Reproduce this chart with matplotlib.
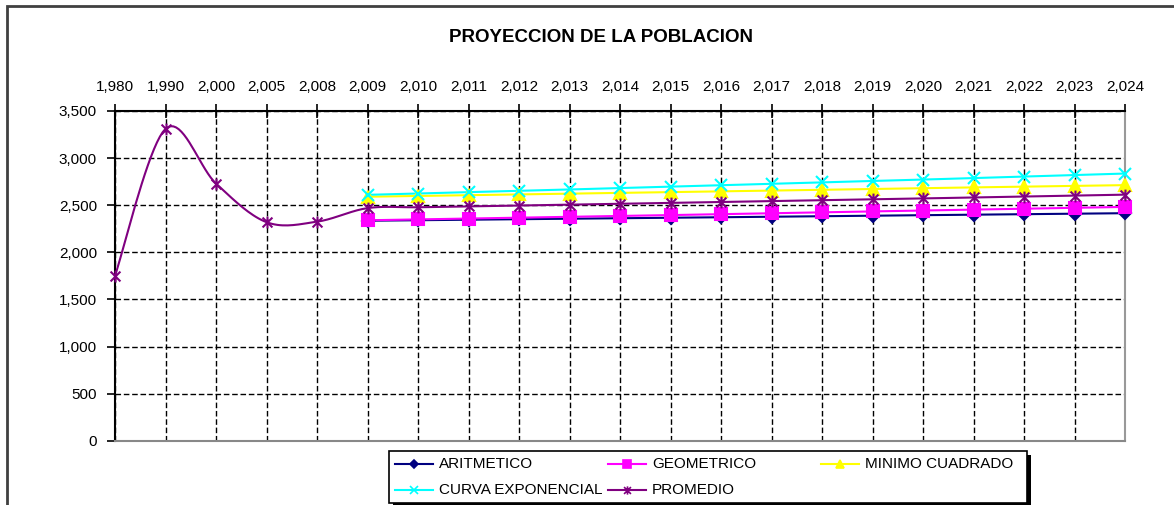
import numpy as np
import matplotlib
matplotlib.use("Agg")
import matplotlib.pyplot as plt
from matplotlib.path import Path
from matplotlib.patches import Rectangle
from matplotlib.lines import Line2D
from matplotlib.ticker import FuncFormatter, MultipleLocator

plt.rcParams.update({
    "font.family": ["Liberation Sans", "DejaVu Sans"],
    "font.size": 11,
})

YEARS = [1980, 1990, 2000, 2005, 2008, 2009, 2010, 2011, 2012, 2013, 2014,
         2015, 2016, 2017, 2018, 2019, 2020, 2021, 2022, 2023, 2024]

N = np.nan
ARITMETICO = [N, N, N, N, N, 2335, 2340, 2346, 2351, 2356, 2362, 2367, 2372,
              2378, 2383, 2388, 2394, 2399, 2404, 2410, 2415]
GEOMETRICO = [N, N, N, N, N, 2340, 2349, 2358, 2367, 2376, 2386, 2395, 2405,
              2414, 2424, 2434, 2443, 2453, 2463, 2472, 2482]
MINIMO_CUADRADO = [N, N, N, N, N, 2590, 2598, 2606, 2614, 2622, 2631, 2639,
                   2647, 2655, 2664, 2672, 2680, 2689, 2697, 2705, 2713]
CURVA_EXPONENCIAL = [N, N, N, N, N, 2610, 2624, 2638, 2653, 2667, 2682, 2697,
                     2712, 2727, 2742, 2757, 2772, 2788, 2804, 2820, 2836]
PROMEDIO = [1750, 3310, 2730, 2320, 2325, 2469, 2478, 2487, 2496, 2505, 2515,
            2525, 2534, 2544, 2553, 2563, 2572, 2582, 2592, 2602, 2612]

W, H = 1174, 505


def fx(xp):
    return xp / W


def fy(yp):
    return 1 - yp / H


def suavizar(x, y, pasos=20):
    # curva suavizada tipo Excel (Catmull-Rom) solo para dibujar la linea
    x = np.asarray(x, float)
    y = np.asarray(y, float)
    ok = ~np.isnan(y)
    x, y = x[ok], y[ok]
    px = np.concatenate([[x[0]], x, [x[-1]]])
    py = np.concatenate([[y[0]], y, [y[-1]]])
    xs, ys = [], []
    t = np.linspace(0, 1, pasos)
    for i in range(1, len(px) - 2):
        for p, out in ((px, xs), (py, ys)):
            p0, p1, p2, p3 = p[i - 1], p[i], p[i + 1], p[i + 2]
            out.extend(0.5 * (2 * p1 + (-p0 + p2) * t
                              + (2 * p0 - 5 * p1 + 4 * p2 - p3) * t ** 2
                              + (-p0 + 3 * p1 - 3 * p2 + p3) * t ** 3))
    return np.array(xs), np.array(ys)


# marcador asterisco de Excel (x con linea vertical)
ASTERISCO = Path(
    [(-1, -1), (1, 1), (-1, 1), (1, -1), (0, -1.2), (0, 1.2)],
    [Path.MOVETO, Path.LINETO, Path.MOVETO, Path.LINETO, Path.MOVETO, Path.LINETO],
)

series = [
    ("ARITMETICO", ARITMETICO, "#000080", "D", 6.5),
    ("GEOMETRICO", GEOMETRICO, "#FF00FF", "s", 8),
    ("MINIMO CUADRADO", MINIMO_CUADRADO, "#FFFF00", "^", 8),
    ("CURVA EXPONENCIAL", CURVA_EXPONENCIAL, "#00FFFF", "x", 8),
    ("PROMEDIO", PROMEDIO, "#800080", ASTERISCO, 8.5),
]

fig = plt.figure(figsize=(W / 100, H / 100), dpi=100)
fig.patch.set_facecolor("white")

# marco del grafico (se corta por abajo y la derecha como en la imagen)
fig.patches.append(Rectangle((fx(7), -0.2), 1.2, fy(6) + 0.2,
                             transform=fig.transFigure, fill=False,
                             edgecolor="#404040", linewidth=2, zorder=0))

ax = fig.add_axes([fx(115), fy(440.7), 1010 / W, 329.7 / H])
x = np.arange(len(YEARS))

for nombre, vals, color, marker, ms in series:
    sx, sy = suavizar(x, vals)
    ax.plot(sx, sy, color=color, linewidth=1.5, zorder=3, solid_capstyle="butt")
    ax.plot(x, vals, linestyle="none", marker=marker, markersize=ms,
            color=color, markeredgewidth=1.5, zorder=4, clip_on=False)

ax.set_xlim(0, len(YEARS) - 1)
ax.set_ylim(0, 3500)
ax.yaxis.set_major_locator(MultipleLocator(500))
ax.yaxis.set_major_formatter(FuncFormatter(lambda v, p: f"{int(v):,}"))
ax.set_xticks(x)
ax.set_xticklabels([f"{a:,}" for a in YEARS])
ax.xaxis.tick_top()
ax.tick_params(axis="x", direction="inout", length=10, width=1.2, pad=7,
               labelsize=11, colors="black")
ax.tick_params(axis="y", direction="out", length=6, width=1.2, pad=7,
               labelsize=11)

ax.grid(True, color="black", linestyle=(0, (4, 2)), linewidth=1, zorder=1)
ax.set_axisbelow(True)

ax.spines["top"].set_linewidth(1.5)
ax.spines["left"].set_linewidth(1.5)
ax.spines["right"].set_color("#999999")
ax.spines["right"].set_linewidth(1.5)
ax.spines["bottom"].set_color("#888888")
ax.spines["bottom"].set_linestyle((0, (2, 1)))
ax.spines["bottom"].set_linewidth(1.5)

fig.text(fx(601), fy(38), "PROYECCION DE LA POBLACION",
         ha="center", va="center", fontsize=13.5, weight="bold")

# leyenda estilo Excel: columnas de igual ancho, sombra negra
fig.patches.append(Rectangle((fx(393), fy(507)), 638 / W, 52 / H,
                             transform=fig.transFigure, facecolor="black",
                             edgecolor="none", zorder=5))
fig.patches.append(Rectangle((fx(389), fy(503)), 638 / W, 52 / H,
                             transform=fig.transFigure, facecolor="white",
                             edgecolor="black", linewidth=1.2, zorder=6))
col_x = [395, 608, 821]
fila_y = [464, 490]
posiciones = [(0, 0), (1, 0), (2, 0), (0, 1), (1, 1)]
for (nombre, vals, color, marker, ms), (c, r) in zip(series, posiciones):
    x0, yy = col_x[c], fila_y[r]
    fig.lines.append(Line2D([fx(x0), fx(x0 + 38)], [fy(yy), fy(yy)],
                            transform=fig.transFigure, color=color,
                            linewidth=1.5, zorder=7))
    fig.lines.append(Line2D([fx(x0 + 19)], [fy(yy)], transform=fig.transFigure,
                            color=color, marker=marker, markersize=ms * 0.7,
                            markeredgewidth=1.2, zorder=8))
    fig.text(fx(x0 + 44), fy(yy), nombre, ha="left", va="center",
             fontsize=11, zorder=9)

plt.savefig("out.png", dpi=100, facecolor=fig.get_facecolor())
